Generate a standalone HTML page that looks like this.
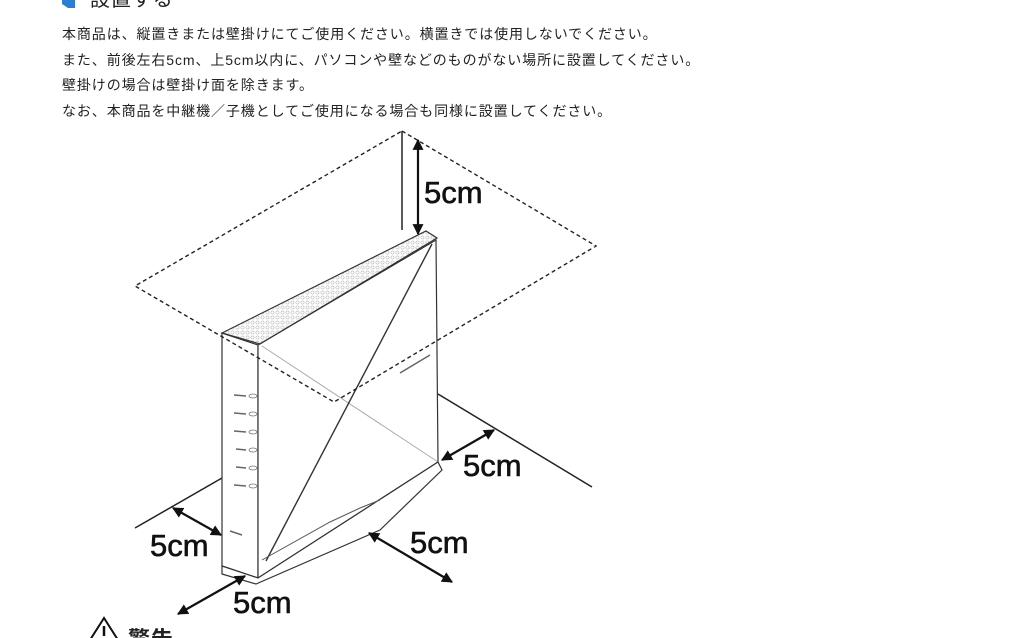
<!DOCTYPE html>
<html><head><meta charset="utf-8"><style>
html,body{margin:0;padding:0;background:#fff;width:1024px;height:638px;overflow:hidden}
svg{position:absolute;left:0;top:0}
.t{font-family:"Liberation Sans","Noto Sans CJK JP",sans-serif;font-size:14px;fill:#222;letter-spacing:0.9px}
.l{font-family:"Liberation Sans",sans-serif;font-size:31px;fill:#111;stroke:#111;stroke-width:0.6}
</style></head><body>
<svg width="1024" height="638" viewBox="0 0 1024 638">
<defs>
<marker id="a" viewBox="0 0 10 10" refX="9" refY="5" markerWidth="5" markerHeight="5" orient="auto-start-reverse"><path d="M0,0 L10,5 L0,10 z" fill="#111"/></marker>
<pattern id="g" width="5" height="5" patternUnits="userSpaceOnUse"><circle cx="2.5" cy="2.5" r="1.6" fill="none" stroke="#bbb" stroke-width="0.6"/></pattern>
</defs>
<path d="M62,0 L75,0 L75,8 L68,8 L62,4 z" fill="#2a7fd4"/>
<text class="t" x="90" y="6" style="font-size:20px">設置する</text>
<text class="t" x="62" y="39">本商品は、縦置きまたは壁掛けにてご使用ください。横置きでは使用しないでください。</text>
<text class="t" x="62" y="65">また、前後左右5cm、上5cm以内に、パソコンや壁などのものがない場所に設置してください。</text>
<text class="t" x="62" y="90">壁掛けの場合は壁掛け面を除きます。</text>
<text class="t" x="62" y="116">なお、本商品を中継機／子機としてご使用になる場合も同様に設置してください。</text>
<line x1="438" y1="394" x2="592" y2="487" stroke="#222" stroke-width="1.5"/>
<line x1="135" y1="528" x2="222" y2="478" stroke="#222" stroke-width="1.5"/>
<line x1="402" y1="131" x2="402" y2="230" stroke="#222" stroke-width="1.5"/>
<polygon points="222,333 258,345 258,578 222,566" fill="#fff" stroke="#333" stroke-width="1.2"/>
<polygon points="258,345 436,240 438,462 258,578" fill="#fff" stroke="#333" stroke-width="1.2"/>
<polygon points="222,333 426,231 437,238 260,344" fill="url(#g)" stroke="#333" stroke-width="1.2"/>
<line x1="262" y1="346" x2="438" y2="462" stroke="#aaa" stroke-width="1"/>
<line x1="432" y1="244" x2="266" y2="561" stroke="#333" stroke-width="1.4"/>
<polygon points="222,566 222,574 256,584 380,530 442,470 438,462 258,578" fill="#fff" stroke="#333" stroke-width="1.2"/>
<polyline points="262,560 330,522 360,508 380,500" fill="none" stroke="#555" stroke-width="1"/>
<g fill="none" stroke="#777" stroke-width="0.8">
<ellipse cx="253" cy="396" rx="4" ry="2"/><ellipse cx="253" cy="414" rx="4" ry="2"/><ellipse cx="253" cy="432" rx="4" ry="2"/>
<ellipse cx="253" cy="450" rx="4" ry="2"/><ellipse cx="253" cy="468" rx="4" ry="2"/><ellipse cx="253" cy="486" rx="4" ry="2"/>
</g>
<g stroke="#666" stroke-width="1.5">
<line x1="234" y1="395" x2="246" y2="396"/><line x1="234" y1="413" x2="246" y2="414"/><line x1="234" y1="431" x2="246" y2="432"/>
<line x1="236" y1="449" x2="246" y2="450"/><line x1="236" y1="467" x2="246" y2="468"/><line x1="234" y1="485" x2="246" y2="486"/>
<line x1="230" y1="531" x2="242" y2="535"/><line x1="400" y1="373" x2="430" y2="355"/>
</g>
<polygon points="402,131 596,246 334,402 135,286" fill="none" stroke="#222" stroke-width="1.4" stroke-dasharray="4,3"/>
<g stroke="#111" stroke-width="2.2" marker-start="url(#a)" marker-end="url(#a)">
<line x1="418" y1="140" x2="418" y2="234"/>
<line x1="442" y1="460" x2="494" y2="430"/>
<line x1="173" y1="508" x2="221" y2="535"/>
<line x1="369" y1="533" x2="452" y2="582"/>
<line x1="178" y1="614" x2="245" y2="576"/>
</g>
<text class="l" x="424" y="203">5cm</text>
<text class="l" x="463" y="476">5cm</text>
<text class="l" x="150" y="556">5cm</text>
<text class="l" x="410" y="553">5cm</text>
<text class="l" x="233" y="613">5cm</text>
<polygon points="104,618 90,640 118,640" fill="none" stroke="#111" stroke-width="2"/>
<line x1="104" y1="626" x2="104" y2="636" stroke="#111" stroke-width="2.5"/>
<text class="t" x="128" y="647" style="font-size:22px;font-weight:bold">警告</text>
</svg>
</body></html>
